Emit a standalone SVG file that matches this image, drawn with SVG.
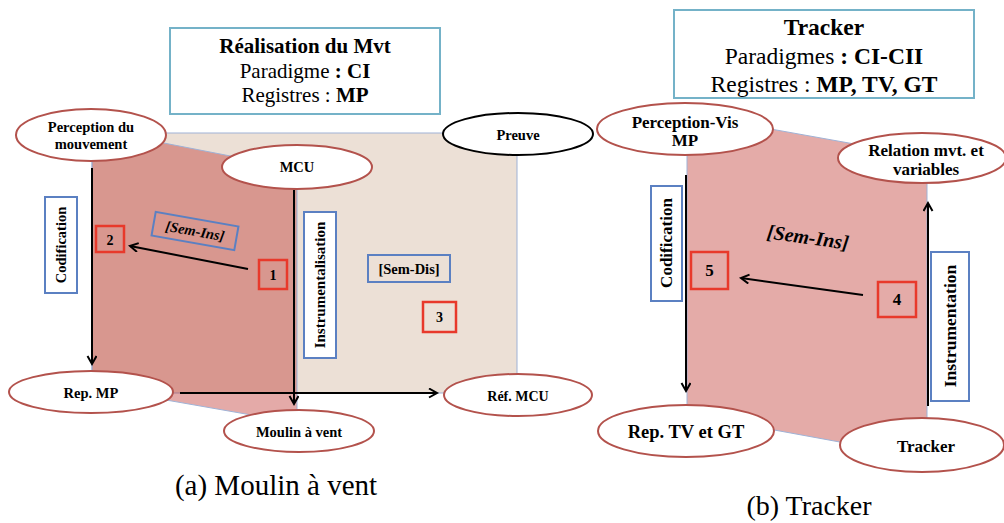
<svg xmlns="http://www.w3.org/2000/svg" width="1004" height="523" viewBox="0 0 1004 523">
<defs>
<style>
.title{fill:#fff;stroke:#74b2c8;stroke-width:2}
.ell{fill:#fff;stroke:#b3524c;stroke-width:2}
.ellk{fill:#fff;stroke:#000;stroke-width:2}
.blue{fill:#fff;stroke:#5b80c2;stroke-width:2}
.blueo{fill:none;stroke:#5b80c2;stroke-width:2}
.redb{fill:none;stroke:#e8392b;stroke-width:2.5}
.lbl{font-family:"Liberation Serif",serif;font-weight:bold;fill:#000;text-anchor:middle;dominant-baseline:central}
.t{font-family:"Liberation Serif",serif;fill:#000;text-anchor:middle}
.ar{fill:none;stroke:#000;stroke-width:2}
.edge{stroke:#9fb2d6;stroke-width:1}
</style>
<marker id="ah" markerWidth="12" markerHeight="12" refX="9" refY="5" orient="auto" markerUnits="userSpaceOnUse">
<path d="M1,0.5 L9,5 L1,9.5" fill="none" stroke="#000" stroke-width="2"/>
</marker>
</defs>
<rect width="1004" height="523" fill="#fff"/>

<g id="planes">
<rect x="92" y="133" width="425" height="260" fill="#ece0d6" class="edge"/>
<polygon points="92,129 297,169 297,423 92,387" fill="rgb(186,37,31)" fill-opacity="0.39" class="edge"/>
<polygon points="687,114 927,157 927,458 687,414" fill="#e4aba8" class="edge"/>
</g>

<g id="title-a">
<rect x="170" y="28" width="270" height="86" class="title"/>
<text x="305" y="53" class="t" font-size="21" font-weight="bold">Réalisation du Mvt</text>
<text x="305" y="78" class="t" font-size="21">Paradigme <tspan font-weight="bold">: CI</tspan></text>
<text x="305" y="102" class="t" font-size="21">Registres : <tspan font-weight="bold">MP</tspan></text>
</g>

<g id="connectors">
<line x1="92" y1="168" x2="92" y2="364" class="ar" marker-end="url(#ah)"/>
<line x1="294" y1="190" x2="294" y2="404" class="ar" marker-end="url(#ah)"/>
<line x1="180" y1="393" x2="437" y2="393" class="ar" stroke-width="2.5" marker-end="url(#ah)"/>
<line x1="248" y1="269" x2="130" y2="246" class="ar" marker-end="url(#ah)"/>
<line x1="686" y1="175" x2="686" y2="391" class="ar" stroke-width="2.5" marker-end="url(#ah)"/>
<line x1="928" y1="406" x2="928" y2="203" class="ar" stroke-width="3" marker-end="url(#ah)"/>
<line x1="863" y1="295" x2="741" y2="278" class="ar" stroke-width="2.5" marker-end="url(#ah)"/>
</g>

<g id="perception-mvt">
<ellipse cx="91" cy="135" rx="75" ry="26" class="ell"/>
<text x="91" y="127" class="lbl" font-size="14.5">Perception du</text>
<text x="91" y="144" class="lbl" font-size="14.5">mouvement</text>
</g>
<g id="mcu">
<ellipse cx="297" cy="167" rx="75" ry="22" class="ell"/>
<text x="297" y="167" class="lbl" font-size="14.5">MCU</text>
</g>
<g id="preuve">
<ellipse cx="518" cy="134" rx="75" ry="21" class="ellk"/>
<text x="518" y="135" class="lbl" font-size="14.5">Preuve</text>
</g>
<g id="rep-mp">
<ellipse cx="91" cy="392" rx="82" ry="21" class="ell"/>
<text x="91" y="393" class="lbl" font-size="14.5">Rep. MP</text>
</g>
<g id="moulin">
<ellipse cx="299" cy="431" rx="75" ry="21" class="ell"/>
<text x="299" y="432" class="lbl" font-size="14.5">Moulin à vent</text>
</g>
<g id="ref-mcu">
<ellipse cx="518" cy="395" rx="74" ry="21" class="ell"/>
<text x="518" y="396" class="lbl" font-size="14">Réf. MCU</text>
</g>
<g id="codification-a">
<rect x="45" y="197" width="32" height="96" class="blue"/>
<text x="61" y="245" class="lbl" font-size="14.5" transform="rotate(-90 61 245)">Codification</text>
</g>
<g id="instrumentalisation">
<rect x="304" y="212" width="32" height="146" class="blue"/>
<text x="320" y="285" class="lbl" font-size="15" transform="rotate(-90 320 285)">Instrumentalisation</text>
</g>
<g id="sem-ins-a" transform="rotate(10 195 231)">
<rect x="153" y="219" width="84" height="24" class="blueo"/>
<text x="195" y="231" class="lbl" font-size="14.5" font-style="italic">[Sem-Ins]</text>
</g>
<g id="sem-dis">
<rect x="368" y="255" width="82" height="27" class="blueo"/>
<text x="409" y="268.5" class="lbl" font-size="14.5">[Sem-Dis]</text>
</g>
<g id="box-1">
<rect x="259" y="260" width="28" height="29" class="redb"/>
<text x="273" y="275" class="lbl" font-size="14">1</text>
</g>
<g id="box-2">
<rect x="96" y="226" width="28" height="26" class="redb"/>
<text x="110" y="240" class="lbl" font-size="14">2</text>
</g>
<g id="box-3">
<rect x="423" y="302" width="33" height="30" class="redb"/>
<text x="439.5" y="317" class="lbl" font-size="14">3</text>
</g>
<text x="276" y="495" class="t" font-size="29">(a) Moulin à vent</text>

<g id="title-b">
<rect x="674" y="10" width="300" height="88" class="title"/>
<text x="824" y="35" class="t" font-size="23.5" font-weight="bold">Tracker</text>
<text x="824" y="64" class="t" font-size="23.5">Paradigmes <tspan font-weight="bold">: CI-CII</tspan></text>
<text x="824" y="92" class="t" font-size="23.5">Registres : <tspan font-weight="bold">MP, TV, GT</tspan></text>
</g>
<g id="perception-vis">
<ellipse cx="685" cy="129" rx="88" ry="26" class="ell"/>
<text x="685" y="122" class="lbl" font-size="17">Perception-Vis</text>
<text x="685" y="140" class="lbl" font-size="17">MP</text>
</g>
<g id="relation">
<ellipse cx="922" cy="158" rx="84" ry="25" class="ell"/>
<text x="926" y="150" class="lbl" font-size="17">Relation mvt. et</text>
<text x="926" y="169" class="lbl" font-size="17">variables</text>
</g>
<g id="rep-tv-gt">
<ellipse cx="686" cy="431" rx="88" ry="26" class="ell"/>
<text x="686" y="432" class="lbl" font-size="18.5">Rep. TV et GT</text>
</g>
<g id="tracker">
<ellipse cx="922" cy="445" rx="82" ry="27" class="ell"/>
<text x="926" y="446" class="lbl" font-size="17">Tracker</text>
</g>
<g id="codification-b">
<rect x="651" y="186" width="31" height="115" class="blue"/>
<text x="666.5" y="243" class="lbl" font-size="17" transform="rotate(-90 666.5 243)">Codification</text>
</g>
<g id="instrumentation">
<rect x="931" y="252" width="38" height="149" class="blue"/>
<text x="950" y="326" class="lbl" font-size="17.5" transform="rotate(-90 950 326)">Instrumentation</text>
</g>
<g id="sem-ins-b">
<text x="808" y="237" class="lbl" font-size="20" font-style="italic" transform="rotate(8 808 237)">[Sem-Ins]</text>
</g>
<g id="box-4">
<rect x="878" y="282" width="38" height="35" class="redb" stroke-width="3"/>
<text x="897" y="299.5" class="lbl" font-size="17">4</text>
</g>
<g id="box-5">
<rect x="691" y="252" width="37" height="37" class="redb" stroke-width="3"/>
<text x="709.5" y="270" class="lbl" font-size="17">5</text>
</g>
<text x="809" y="515" class="t" font-size="28">(b) Tracker</text>
</svg>
